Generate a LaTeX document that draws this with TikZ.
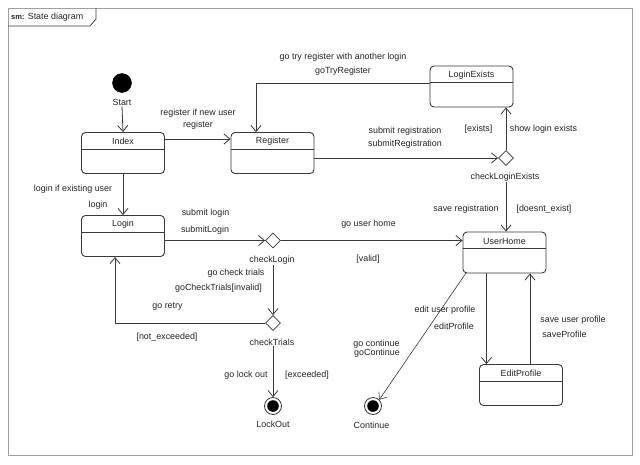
\documentclass[tikz,border=0pt]{standalone}
\usepackage{fontspec}
\setmainfont{Liberation Sans}
\usetikzlibrary{shapes.geometric,arrows.meta}
\definecolor{ln}{HTML}{3A3A3A}
\definecolor{frm}{HTML}{A0A0A0}
\begin{document}
\begin{tikzpicture}[x=1pt,y=-1pt,
  every node/.style={font=\fontsize{8.9}{10}\selectfont, text=black!85},
  state/.style={draw=ln, line width=0.9pt, rounded corners=4pt, minimum width=83pt, minimum height=41pt, inner sep=0pt,
    path picture={\draw[ln, line width=0.9pt] ([yshift=-16.5pt]path picture bounding box.north west) -- ([yshift=-16.5pt]path picture bounding box.north east);}},
  stitle/.style={inner sep=0pt, anchor=center},
  choice/.style={draw=ln, line width=0.8pt, diamond, aspect=1, minimum size=15pt, inner sep=0pt},
  final/.style={draw=ln, line width=0.8pt, circle, minimum size=17pt, inner sep=0pt,
    path picture={\fill[black] (path picture bounding box.center) circle (5.8pt);}},
  lbl/.style={inner sep=1pt, anchor=center},
  tr/.style={draw=ln, line width=0.8pt, -{Straight Barb[length=6pt,width=10pt]}}
]
\useasboundingbox (0,0) rectangle (640,464);
\fill[white] (0,0) rectangle (640,464);
% frame
\draw[frm, line width=1pt] (8,8) rectangle (632,455);
\draw[ln, line width=0.8pt] (8,26) -- (90,26) -- (96,19) -- (96,8);
\node[lbl, anchor=west] (ftitle) at (10,17) {{\fontsize{7.5}{8}\selectfont\bfseries sm:} State diagram};

% states
\node[draw=black, fill=black, circle, minimum size=19pt, inner sep=0pt] (start) at (122,83) {};
\node[lbl] (startl) at (122,102) {Start};
\node[state] (index) at (123,153) {};
\node[stitle] (indext) at (123,141) {Index};
\node[state] (register) at (272.5,153) {};
\node[stitle] (registert) at (272.5,141) {Register};
\node[state] (loginexists) at (471.5,86.5) {};
\node[stitle] (loginexistst) at (471.5,75) {LoginExists};
\node[state] (login) at (123,236) {};
\node[stitle] (logint) at (123,224) {Login};
\node[state] (userhome) at (504.5,252.5) {};
\node[stitle] (userhomet) at (504.5,241) {UserHome};
\node[state] (editprofile) at (521,385) {};
\node[stitle] (editprofilet) at (521,373) {EditProfile};

\node[choice] (cle) at (506,158) {};
\node[lbl] (clel) at (505,177) {checkLoginExists};
\node[choice] (cl) at (273,240.5) {};
\node[lbl] (cll) at (272,260) {checkLogin};
\node[choice] (ct) at (273,323) {};
\node[lbl] (ctl) at (272,342) {checkTrials};
\node[final] (lockout) at (273,406) {};
\node[lbl] (lockoutl) at (273,424) {LockOut};
\node[final] (continue) at (373,406) {};
\node[lbl] (continuel) at (371.5,425) {Continue};

% transitions
\draw[tr] (startl.south) -- (index.north);
\draw[tr] (index.east |- 0,139) -- (register.west |- 0,139);
\draw[tr] (index.south) -- (login.north);
\coordinate (c1) at (256,83);
\draw[tr] (loginexists.west |- c1) -- (c1) -- (c1 |- register.north);
\draw[tr] (register.east |- cle) -- (cle.west);
\draw[tr] (cle.north) -- (cle.north |- loginexists.south);
\draw[tr] (cle.south |- clel.south) -- (cle.south |- userhome.north);
\draw[tr] (login.east |- cl) -- (cl.west);
\draw[tr] (cl.east) -- (cl.east -| userhome.west);
\draw[tr] (cl.south |- cll.south) -- (ct.north);
\coordinate (c2) at (115,323);
\draw[tr] (ct.west) -- (c2) -- (c2 |- login.south);
\draw[tr] (ct.south |- ctl.south) -- (lockout.north);
\draw[ln, line width=0.6pt, -{Straight Barb[length=6pt,width=10pt]}] (466,273) -- (continue.north east);
\coordinate (c3) at (486.5,0);
\draw[tr] (c3 |- userhome.south) -- (c3 |- editprofile.north);
\coordinate (c4) at (530,0);
\draw[tr] (c4 |- editprofile.north) -- (c4 |- userhome.south);

% labels
\node[lbl] (l1) at (198,113) {register if new user};
\node[lbl] (l2) at (198,125) {register};
\node[lbl] (l3) at (73,189) {login if existing user};
\node[lbl] (l4) at (98,205) {login};
\node[lbl] (l5) at (343,57) {go try register with another login};
\node[lbl] (l6) at (343,71) {goTryRegister};
\node[lbl] (l7) at (405,131) {submit registration};
\node[lbl] (l8) at (405,144) {submitRegistration};
\node[lbl] (l9) at (478.5,129) {[exists]};
\node[lbl] (l10) at (543.5,129) {show login exists};
\node[lbl] (l11) at (466,209) {save registration};
\node[lbl] (l12) at (544,209) {[doesnt\_exist]};
\node[lbl] (l13) at (205.5,213) {submit login};
\node[lbl] (l14) at (205,230) {submitLogin};
\node[lbl] (l15) at (368.5,224) {go user home};
\node[lbl] (l16) at (368,259) {[valid]};
\node[lbl] (l17) at (236,273) {go check trials};
\node[lbl] (l18) at (218.5,288) {goCheckTrials[invalid]};
\node[lbl] (l19) at (167.5,307) {go retry};
\node[lbl] (l20) at (167,337) {[not\_exceeded]};
\node[lbl] (l21) at (246,375) {go lock out};
\node[lbl] (l22) at (307,375) {[exceeded]};
\node[lbl] (l23) at (445,310) {edit user profile};
\node[lbl] (l24) at (454,326) {editProfile};
\node[lbl] (l25) at (376.5,344) {go continue};
\node[lbl] (l26) at (377,353) {goContinue};
\node[lbl] (l27) at (573,320) {save user profile};
\node[lbl] (l28) at (564.5,334) {saveProfile};
\end{tikzpicture}
\end{document}
